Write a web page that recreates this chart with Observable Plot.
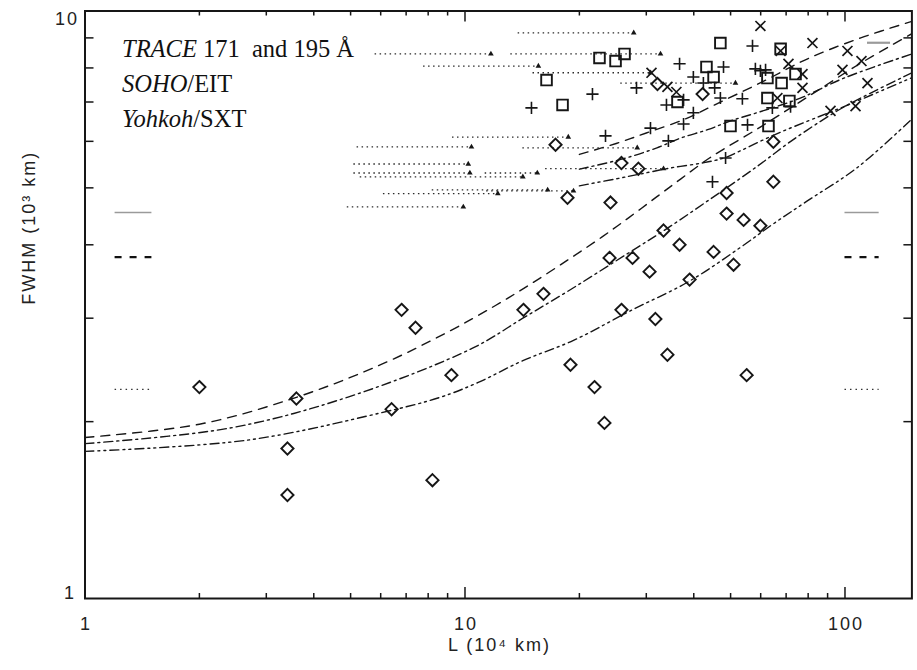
<!DOCTYPE html>
<html><head><meta charset="utf-8">
<script src="https://cdn.jsdelivr.net/npm/d3@7"></script>
<script src="https://cdn.jsdelivr.net/npm/@observablehq/plot@0.6"></script>
<style>
html,body{margin:0;padding:0;background:#fff;}
#wrap{position:relative;width:917px;height:670px;overflow:hidden;background:#fff;}
#strip{position:absolute;left:0;top:0;width:13px;height:670px;
  background:linear-gradient(to bottom,#fdf5e4 0%,#fbeef0 25%,#f8e6ea 45%,#e8eefa 62%,#fcefe3 80%,#fdf6ea 100%);opacity:.8}
#chart{position:absolute;left:0;top:0;}
#chart svg text{letter-spacing:2px;}
#legend{position:absolute;left:122px;top:31px;font-family:"Liberation Serif","Times New Roman",serif;font-size:24.5px;line-height:35px;color:#111;white-space:pre;}
</style></head>
<body><div id="wrap"><div id="strip"></div><div id="chart"></div><div id="legend"></div></div>
<script>
// ---- legend text ----
const legendItalic = ["TRACE", "SOHO", "Yohkoh"];
const legendRest = [" 171\u00a0 and 195 \u00c5", "/EIT", "/SXT"];

// ---- axis tick values / labels ----
const xMajor = [10, 100];
const xMinor = [2,3,4,5,6,7,8,9,20,30,40,50,60,70,80,90];
const yMinor = [2,3,4,5,6,7,8,9];
const xTickLabels = [1, 10, 100];
const xTitle = "L (10\u2074 km)";
const yTitle = "FWHM (10\u00b3 km)";

// ---- diamonds (L in 10^4 km, FWHM in 10^3 km) ----
const diamondL = [2.00,3.41,3.41,3.60,6.41,6.81,7.41,8.21,9.21,14.25,16.09,17.31,18.61,18.95,21.92,23.28,24.01,24.15,25.81,25.81,27.6,28.6,30.6,31.7,32.1,33.3,34.1,36.7,39.0,42.2,45.1,48.8,48.8,50.9,54.1,55.1,59.9,64.8,64.8];
const diamondF = [2.29,1.80,1.50,2.19,2.10,3.10,2.89,1.59,2.40,3.10,3.30,5.92,4.81,2.50,2.29,1.99,3.80,4.72,5.51,3.10,3.80,5.39,3.60,2.99,7.51,4.23,2.60,4.00,3.49,7.22,3.89,4.90,4.52,3.70,4.41,2.40,4.31,5.99,5.12];

// ---- squares ----
const squareL = [16.39,18.06,22.59,24.9,26.29,36.24,43.2,45.1,47.0,49.97,62.5,62.5,62.9,67.7,68.1,71.4,74.1];
const squareF = [7.63,6.92,8.32,8.22,8.45,7.0,8.03,7.72,8.82,6.37,7.69,7.11,6.37,8.62,7.54,7.03,7.81];

// ---- plus signs ----
const plusL = [14.96,21.65,23.43,28.27,30.77,33.9,34.3,36.7,37.6,37.6,39.9,39.9,42.4,44.8,45.4,47.0,47.9,48.5,53.7,55.4,57.1,58.1,59.9,61.8,64.4,71.9];
const plusF = [6.84,7.22,6.13,7.40,6.32,6.92,6.01,8.13,7.06,6.42,7.72,6.71,7.54,5.12,7.40,7.11,8.03,5.62,7.09,6.40,8.72,7.97,7.91,7.94,6.84,6.87];

// ---- crosses ----
const timesL = [30.96,34.1,36.0,59.9,66.4,67.7,71.0,77.3,77.3,82.1,91.6,98.5,101.5,106.6,110.5,114.6];
const timesF = [7.85,7.43,7.28,9.43,7.11,8.55,8.13,7.81,7.40,8.82,6.76,7.94,8.55,6.89,8.22,7.54];

// ---- dotted ranges ending in triangles ----
const triFrom = [5.8,7.78,9.27,5.2,14.2,5.1,5.1,5.3,11.3,6.1,8.2,11.4,4.9,13.8,13.2,15.1,25.7,16.3];
const triTo   = [11.7,15.6,18.7,10.4,28.4,10.2,10.3,14.2,15.5,12.2,16.5,19.3,9.9,27.8,32.7,30.8,51.5,33.3];
const triF    = [8.45,8.06,6.1,5.87,5.85,5.49,5.30,5.22,5.30,4.89,4.96,4.94,4.64,9.18,8.45,7.85,7.54,5.39];

// ---- model curves ----
const curveLowDashL = [1,2,3.6,6,9,12,15,19,23,27,32,37,44,60,80,110,150];
const curveLowDashF = [1.88,1.98,2.2,2.5,2.84,3.15,3.44,3.8,4.13,4.45,4.83,5.18,5.62,6.35,7.15,8.15,9.15];
const curveLowDotL = [1,2.4,4.9,10.5,14.2,19.3,26.7,33.2,43.5,59,72,91.5,105,150];
const curveLowDotF = [1.835,1.95,2.2,2.67,3.0,3.38,3.86,4.22,4.75,5.45,6.0,6.65,7.0,7.85];
const curveLowDot3L = [1,2.67,6,8.6,10.8,14.2,19.3,27.3,39,52.8,64.7,79.6,107.6,150];
const curveLowDot3F = [1.78,1.86,2.07,2.2,2.33,2.54,2.75,3.09,3.47,3.95,4.34,4.75,5.41,6.55];
const curveUpDashL = [20,25,30,38,46,60,80,110,150];
const curveUpDashF = [5.7,5.95,6.2,6.55,6.95,7.55,8.3,9.0,9.6];
const curveUpDotL = [20,26,32,37,43.5,50,59,76,100,150];
const curveUpDotF = [5.38,5.6,5.85,6.08,6.28,6.5,6.72,7.1,7.7,8.45];
const curveUpDot3L = [20,25,29,35,42,48,53,65,80,98,150];
const curveUpDot3F = [5.04,5.18,5.28,5.41,5.51,5.62,5.78,6.15,6.5,6.85,7.7];

// ---- short key segments at both sides ----
const keyF = [4.54, 3.81, 2.27];
const keyLeftL = [1.2, 1.5];
const keyRightL = [100, 123];
const grayMarkF = 8.83;
const grayMarkL = [114.6, 131.8];

// ---- build ----
document.getElementById("legend").innerHTML = legendItalic
  .map((t, i) => `<div><i>${t}</i>${legendRest[i]}</div>`).join("");

const pts = (L, F) => L.map((l, i) => ({L: l, F: F[i]}));
const diamonds = pts(diamondL, diamondF);
const squares = pts(squareL, squareF);
const pluses = pts(plusL, plusF);
const crosses = pts(timesL, timesF);
const tris = triFrom.map((a, i) => ({L0: a, L1: triTo[i], F: triF[i]}));
const keyStyles = [
  {stroke: "#9a9a9a", strokeWidth: 1.6, dash: null},
  {stroke: "#111", strokeWidth: 2.2, dash: "7,8"},
  {stroke: "#333", strokeWidth: 1.3, dash: "1.5,4"}
];
const keySegs = [];
keyF.forEach((f, i) => {
  keySegs.push({F: f, a: keyLeftL[0], b: keyLeftL[1], s: i});
  keySegs.push({F: f, a: keyRightL[0], b: keyRightL[1], s: i});
});

const curves = [
  {L: curveLowDashL, F: curveLowDashF, dash: "9,7"},
  {L: curveLowDotL, F: curveLowDotF, dash: "9,4,2,4"},
  {L: curveLowDot3L, F: curveLowDot3F, dash: "9,4,2,4,2,4"},
  {L: curveUpDashL, F: curveUpDashF, dash: "9,7"},
  {L: curveUpDotL, F: curveUpDotF, dash: "9,4,2,4"},
  {L: curveUpDot3L, F: curveUpDot3F, dash: "9,4,2,4,2,4"}
];

const FW = 826.9, FH = 587.5; // frame size in px (for tick insets)
const ink = "#161616";
const sans = "Liberation Sans, Arial, sans-serif";

const chart = Plot.plot({
  width: 917, height: 670,
  marginLeft: 84.5, marginRight: 5.6, marginTop: 10.5, marginBottom: 72,
  style: {background: "white", fontFamily: sans},
  x: {type: "log", domain: [1, 150], axis: null},
  y: {type: "log", domain: [1, 10], axis: null},
  marks: [
    ...curves.map(c => Plot.line(pts(c.L, c.F), {x: "L", y: "F", stroke: ink, strokeWidth: 1.4, strokeDasharray: c.dash, curve: "catmull-rom", clip: true})),
    Plot.ruleY(tris, {y: "F", x1: "L0", x2: "L1", stroke: "#2a2a2a", strokeWidth: 1.3, strokeDasharray: "1.5,3.5"}),
    Plot.dot(tris, {x: "L1", y: "F", symbol: "triangle", r: 2.1, fill: ink, stroke: null}),
    ...keyStyles.map((k, i) => Plot.ruleY(keySegs.filter(d => d.s === i), {y: "F", x1: "a", x2: "b", stroke: k.stroke, strokeWidth: k.strokeWidth, strokeDasharray: k.dash})),
    Plot.ruleY([grayMarkF], {y: d => d, x1: grayMarkL[0], x2: grayMarkL[1], stroke: "#9a9a9a", strokeWidth: 2.2}),
    Plot.dot(diamonds, {x: "L", y: "F", symbol: "diamond2", r: 5.5, stroke: ink, strokeWidth: 1.9, fill: "none"}),
    Plot.dot(squares, {x: "L", y: "F", symbol: "square", r: 6, stroke: ink, strokeWidth: 1.9, fill: "none"}),
    Plot.dot(pluses, {x: "L", y: "F", symbol: "plus", r: 4, stroke: ink, strokeWidth: 1.6}),
    Plot.dot(crosses, {x: "L", y: "F", symbol: "times", r: 4.6, stroke: ink, strokeWidth: 1.7}),
    // ticks, inward on all four sides
    Plot.tickX(xMinor, {x: d => d, stroke: ink, strokeWidth: 1.5, insetTop: FH - 5}),
    Plot.tickX(xMajor, {x: d => d, stroke: ink, strokeWidth: 1.5, insetTop: FH - 11}),
    Plot.tickX(xMinor, {x: d => d, stroke: ink, strokeWidth: 1.5, insetBottom: FH - 5}),
    Plot.tickX(xMajor, {x: d => d, stroke: ink, strokeWidth: 1.5, insetBottom: FH - 11}),
    Plot.tickY(yMinor, {y: d => d, stroke: ink, strokeWidth: 1.5, insetRight: FW - 9}),
    Plot.tickY(yMinor, {y: d => d, stroke: ink, strokeWidth: 1.5, insetLeft: FW - 8}),
    Plot.frame({stroke: ink, strokeWidth: 2}),
    // tick labels and titles
    Plot.text(xTickLabels, {x: d => d, text: d => String(d), frameAnchor: "bottom", dy: 31, dx: 1, fontSize: 18, fill: "#222", fontFamily: sans}),
    Plot.text([1], {y: d => d, text: d => String(d), frameAnchor: "left", textAnchor: "end", dx: -9, dy: -5, fontSize: 18, fill: "#222", fontFamily: sans}),
    Plot.text([10], {y: d => d, text: d => String(d), frameAnchor: "left", textAnchor: "end", dx: -6, dy: 8, fontSize: 18, fill: "#222", fontFamily: sans}),
    Plot.text([xTitle], {frameAnchor: "bottom", dy: 52, dx: 1, fontSize: 18, fill: "#222", fontFamily: sans}),
    Plot.text([yTitle], {frameAnchor: "left", rotate: -90, dx: -56, fontSize: 18, fill: "#222", fontFamily: sans})
  ]
});
document.getElementById("chart").appendChild(chart);
</script>
</body></html>
